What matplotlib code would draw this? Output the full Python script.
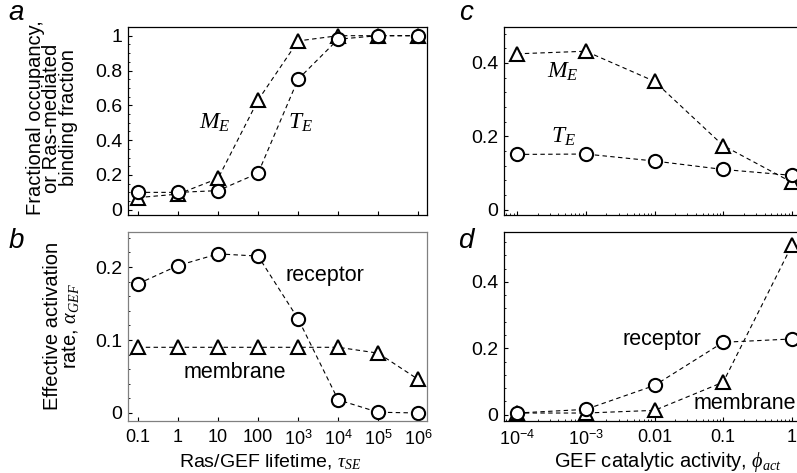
# Ras/GEF panels a-d

import numpy as np
import matplotlib.pyplot as plt
from matplotlib.ticker import AutoMinorLocator, FuncFormatter

plt.rcParams['font.family'] = ['Liberation Sans', 'DejaVu Sans']
plt.rcParams['mathtext.fontset'] = 'custom'
plt.rcParams['mathtext.rm'] = 'Liberation Sans'
plt.rcParams['mathtext.it'] = 'Liberation Serif:italic'
plt.rcParams['mathtext.bf'] = 'Liberation Sans:bold'

# Panel a/b data: Ras/GEF lifetime
tau = [0.1, 1, 10, 100, 1e3, 1e4, 1e5, 1e6]
tau_labels = ['0.1', '1', '10', '100', '$10^3$', '$10^4$', '$10^5$', '$10^6$']
T_E_a = [0.10, 0.10, 0.11, 0.21, 0.75, 0.98, 1.0, 1.0]
M_E_a = [0.07, 0.09, 0.18, 0.63, 0.97, 1.0, 1.0, 1.0]
alpha_receptor = [0.177, 0.202, 0.218, 0.215, 0.129, 0.018, 0.001, 0.0]
alpha_membrane = [0.09, 0.09, 0.09, 0.09, 0.09, 0.09, 0.082, 0.046]

# Panel c/d data: GEF catalytic activity
phi = [1e-4, 1e-3, 0.01, 0.1, 1]
phi_labels = ['$10^{-4}$', '$10^{-3}$', '0.01', '0.1', '1']
M_E_c = [0.425, 0.432, 0.35, 0.175, 0.075]
T_E_c = [0.151, 0.152, 0.133, 0.11, 0.094]
act_receptor = [0.005, 0.016, 0.088, 0.218, 0.228]
act_membrane = [0.005, 0.005, 0.013, 0.098, 0.51]

W, H = 797, 473
fig = plt.figure(figsize=(W / 100, H / 100), dpi=100)

def box(l, t, r, b):
    return [l / W, 1 - b / H, (r - l) / W, (b - t) / H]

ax_a = fig.add_axes(box(128, 27, 427, 215))
ax_b = fig.add_axes(box(128, 232, 427, 421))
ax_c = fig.add_axes(box(504, 27, 805, 215))
ax_d = fig.add_axes(box(504, 232, 805, 421))

circ = dict(marker='o', ms=9.5, mfc='white', mec='black', mew=1.5)
tri = dict(marker='^', ms=10, mfc='white', mec='black', mew=1.5)
line = dict(color='black', ls=(0, (4, 3)), lw=0.8)

ax_a.plot(tau, M_E_a, **line, **tri)
ax_a.plot(tau, T_E_a, **line, **circ)
ax_b.plot(tau, alpha_membrane, **line, **tri)
ax_b.plot(tau, alpha_receptor, **line, **circ)
ax_c.plot(phi, M_E_c, **line, **tri)
ax_c.plot(phi, T_E_c, **line, **circ)
ax_d.plot(phi, act_membrane, **line, **tri)
ax_d.plot(phi, act_receptor, **line, **circ)

fmt = FuncFormatter(lambda v, p: '%g' % v)
for ax in (ax_a, ax_b, ax_c, ax_d):
    ax.set_xscale('log')
    ax.tick_params(which='both', direction='in', top=False, right=False)
    ax.tick_params(axis='y', labelsize=14, pad=4)
    ax.tick_params(axis='x', labelsize=13, pad=6)
    ax.tick_params(which='major', length=3, width=0.8)
    ax.tick_params(which='minor', length=1.5, width=0.6)
    ax.yaxis.set_major_formatter(fmt)
    for s in ax.spines.values():
        s.set_linewidth(0.9)

for ax in (ax_a, ax_b):
    ax.set_xlim(10 ** -1.25, 10 ** 6.22)
    ax.set_xticks(tau)
ax_b.set_xticklabels(tau_labels)
ax_a.set_xticklabels([])
for ax in (ax_c, ax_d):
    ax.set_xlim(10 ** -4.19, 10 ** 0.19)
    ax.set_xticks(phi)
ax_d.set_xticklabels(phi_labels)
ax_c.set_xticklabels([])

ax_a.set_ylim(-0.03, 1.05)
ax_a.set_yticks([0, 0.2, 0.4, 0.6, 0.8, 1])
ax_a.yaxis.set_minor_locator(AutoMinorLocator(4))
ax_b.set_ylim(-0.011, 0.248)
ax_b.set_yticks([0, 0.1, 0.2])
ax_b.yaxis.set_minor_locator(AutoMinorLocator(5))
ax_c.set_ylim(-0.014, 0.498)
ax_c.set_yticks([0, 0.2, 0.4])
ax_c.yaxis.set_minor_locator(AutoMinorLocator(5))
ax_d.set_ylim(-0.019, 0.55)
ax_d.set_yticks([0, 0.2, 0.4])
ax_d.yaxis.set_minor_locator(AutoMinorLocator(5))

for s in ax_b.spines.values():
    s.set_color('#808080')

# curve labels
ax_a.text(10 ** 0.93, 0.5, '$M_E$', fontsize=17, ha='center', va='center')
ax_a.text(10 ** 3.05, 0.5, '$T_E$', fontsize=17, ha='center', va='center')
ax_b.text(10 ** 3.675, 0.188, 'receptor', fontsize=15.5, ha='center', va='center')
ax_b.text(10 ** 1.425, 0.055, 'membrane', fontsize=15.5, ha='center', va='center')
ax_c.text(10 ** -3.33, 0.375, '$M_E$', fontsize=17, ha='center', va='center')
ax_c.text(10 ** -3.33, 0.2, '$T_E$', fontsize=17, ha='center', va='center')
ax_d.text(10 ** -1.89, 0.225, 'receptor', fontsize=15.5, ha='center', va='center')
ax_d.text(796 / W, 1 - 403 / H, 'membrane', fontsize=15.5, ha='right', va='center',
          transform=fig.transFigure)

# panel letters
for x, y, s in [(16, 13, 'a'), (16, 241, 'b'), (466, 13, 'c'), (466, 241, 'd')]:
    fig.text(x / W, 1 - y / H, s, fontsize=20, style='italic', ha='center', va='center')

# axis labels
fig.text(52 / W, 1 - 118 / H, 'Fractional occupancy,\nor Ras-mediated\nbinding fraction',
         rotation=90, fontsize=14.5, ha='center', va='center', linespacing=0.85,
         multialignment='center')
fig.text(62 / W, 1 - 326 / H, 'Effective activation\nrate, $\\alpha_{GEF}$',
         rotation=90, fontsize=14.5, ha='center', va='center', linespacing=0.9,
         multialignment='center')
fig.text(270 / W, 1 - 462 / H, 'Ras/GEF lifetime, $\\tau_{SE}$', fontsize=14, ha='center', va='center')
fig.text(668 / W, 1 - 462 / H, 'GEF catalytic activity, $\\phi_{act}$', fontsize=14.5, ha='center', va='center')

fig.savefig('out.png', dpi=100)
